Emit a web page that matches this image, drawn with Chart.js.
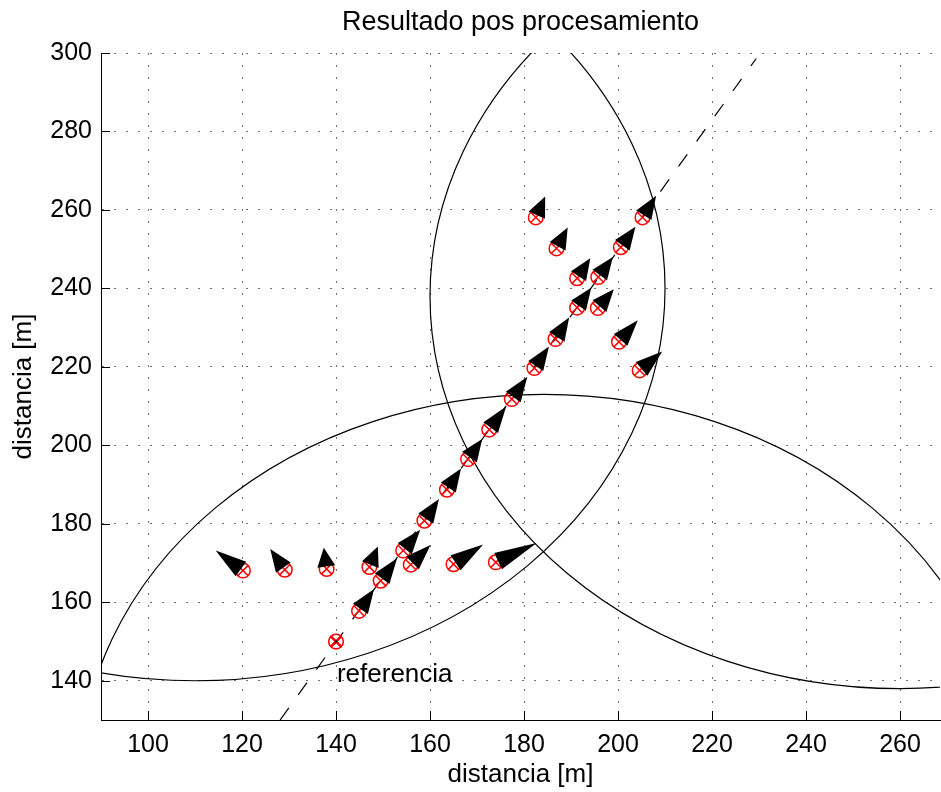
<!DOCTYPE html>
<html>
<head>
<meta charset="utf-8">
<title>Resultado pos procesamiento</title>
<script src="https://cdn.jsdelivr.net/npm/chart.js@4/dist/chart.umd.min.js"></script>
<style>
  html, body { margin: 0; padding: 0; background: #fff; }
  #wrap { width: 941px; height: 792px; }
</style>
</head>
<body>
<div id="wrap"><canvas id="c" width="941" height="792"></canvas></div>
<script>
// Axis ticks
const xTicks = [100, 120, 140, 160, 180, 200, 220, 240, 260];
const yTicks = [140, 160, 180, 200, 220, 240, 260, 280, 300];

// Estimated positions after post-processing [m]
const posX = [120.2, 129.1, 138.0, 147.1, 154.3, 149.5, 155.9, 144.9, 165.0, 174.0,
              158.8, 163.6, 168.1, 172.6, 177.4, 182.2, 204.6, 186.7, 200.2, 191.3,
              195.7, 191.3, 195.8, 186.9, 200.6, 182.5, 205.2];
const posY = [168.1, 168.3, 168.5, 169.0, 173.2, 165.5, 169.6, 157.8, 169.7, 170.2,
              180.8, 188.7, 196.5, 204.0, 211.8, 219.7, 219.1, 227.1, 226.4, 235.1,
              235.0, 242.6, 242.9, 250.2, 250.5, 258.1, 258.1];

// Heading tips (where each cone points to) [m]
const headX = [114.4, 126.0, 137.4, 148.9, 157.9, 153.0, 160.1, 148.1, 171.3, 182.7,
               161.9, 166.6, 171.1, 176.2, 180.7, 185.3, 209.4, 189.6, 204.2, 194.3,
               199.1, 194.1, 198.9, 189.3, 203.7, 184.5, 208.1];
const headY = [173.2, 173.6, 173.9, 174.2, 178.5, 171.2, 174.6, 163.4, 174.7, 175.1,
               186.3, 194.1, 201.6, 209.9, 217.5, 225.2, 223.9, 232.6, 231.9, 240.2,
               239.8, 247.7, 248.0, 255.5, 255.7, 263.4, 263.6];

// Reference point and its bearing line
const refX = [140];
const refY = [150];
const refLineX = [128.1, 229.4];
const refLineY = [130.0, 298.6];
const refLabel = 'referencia';
const refLabelX = 140.2;
const refLabelY = 141.5;

// Range circles (beacon centre and radius) [m]
const beaconX = [110, 260, 184.2];
const beaconY = [240, 238, 114.2];
const beaconR = [100, 100, 98.8];

const FONT = "'Liberation Sans', Arial, Helvetica, sans-serif";

const toXY = (xs, ys) => xs.map((v, i) => ({ x: v, y: ys[i] }));

function clipArea(ctx, a) {
  ctx.beginPath();
  ctx.rect(a.left, a.top, a.right - a.left, a.bottom - a.top);
  ctx.clip();
}

// Range circles, drawn beneath the markers, and the inward tick marks
const rangeCircles = {
  id: 'rangeCircles',
  beforeDatasetsDraw(chart) {
    const { ctx, chartArea: a, scales: { x, y } } = chart;
    ctx.save();
    clipArea(ctx, a);
    ctx.strokeStyle = '#000';
    ctx.lineWidth = 1.2;
    for (let i = 0; i < beaconX.length; i++) {
      const px = x.getPixelForValue(beaconX[i]);
      const py = y.getPixelForValue(beaconY[i]);
      const rx = Math.abs(x.getPixelForValue(beaconX[i] + beaconR[i]) - px);
      const ry = Math.abs(y.getPixelForValue(beaconY[i] + beaconR[i]) - py);
      ctx.beginPath();
      ctx.ellipse(px, py, rx, ry, 0, 0, Math.PI * 2);
      ctx.stroke();
    }
    ctx.restore();

    ctx.save();
    ctx.strokeStyle = '#000';
    ctx.lineWidth = 1;
    const TL = 9;
    xTicks.forEach(v => {
      const px = Math.round(x.getPixelForValue(v)) + 0.5;
      ctx.beginPath(); ctx.moveTo(px, a.bottom); ctx.lineTo(px, a.bottom - TL); ctx.stroke();
    });
    yTicks.forEach(v => {
      const py = Math.round(y.getPixelForValue(v)) + 0.5;
      ctx.beginPath(); ctx.moveTo(a.left, py); ctx.lineTo(a.left + TL, py); ctx.stroke();
    });
    ctx.restore();
  }
};

// Heading cones on top of the position markers, plus the reference label
const headingCones = {
  id: 'headingCones',
  afterDatasetsDraw(chart) {
    const { ctx, chartArea: a, scales: { x, y } } = chart;
    const HALF = 9, SHIFT = 2.5;
    ctx.save();
    clipArea(ctx, a);
    ctx.fillStyle = '#000';
    for (let i = 0; i < posX.length; i++) {
      const cx = x.getPixelForValue(posX[i]);
      const cy = y.getPixelForValue(posY[i]);
      const tx = x.getPixelForValue(headX[i]);
      const ty = y.getPixelForValue(headY[i]);
      const dx = tx - cx, dy = ty - cy;
      const L = Math.hypot(dx, dy) || 1;
      const ux = dx / L, uy = dy / L;
      const bx = cx + ux * SHIFT, by = cy + uy * SHIFT;
      ctx.beginPath();
      ctx.moveTo(tx, ty);
      ctx.lineTo(bx - uy * HALF, by + ux * HALF);
      ctx.lineTo(bx + uy * HALF, by - ux * HALF);
      ctx.closePath();
      ctx.fill();
    }
    ctx.fillStyle = '#000';
    ctx.font = '26px ' + FONT;
    ctx.textAlign = 'left';
    ctx.textBaseline = 'middle';
    ctx.fillText(refLabel, x.getPixelForValue(refLabelX), y.getPixelForValue(refLabelY));
    ctx.restore();
  }
};

const tickFont = { family: FONT, size: 25 };
const labelFont = { family: FONT, size: 26, lineHeight: 1.2 };

new Chart(document.getElementById('c'), {
  type: 'scatter',
  data: {
    datasets: [
      {
        label: 'bearing',
        data: toXY(refLineX, refLineY),
        showLine: true,
        borderColor: '#000',
        borderWidth: 1.2,
        borderDash: [15, 16],
        pointRadius: 0,
        fill: false,
        order: 10
      },
      {
        label: 'pos-circle',
        data: toXY(posX, posY),
        pointStyle: 'circle',
        pointRadius: 7.3,
        borderColor: '#ff0000',
        backgroundColor: 'rgba(0,0,0,0)',
        borderWidth: 1.5,
        order: 6
      },
      {
        label: 'pos-cross',
        data: toXY(posX, posY),
        pointStyle: 'crossRot',
        pointRadius: 7.3,
        borderColor: '#ff0000',
        borderWidth: 1.5,
        order: 5
      },
      {
        label: 'ref-circle',
        data: toXY(refX, refY),
        pointStyle: 'circle',
        pointRadius: 7.3,
        borderColor: '#ff0000',
        backgroundColor: 'rgba(0,0,0,0)',
        borderWidth: 1.6,
        order: 3
      },
      {
        label: 'ref-cross',
        data: toXY(refX, refY),
        pointStyle: 'crossRot',
        pointRadius: 7.3,
        borderColor: '#ff0000',
        borderWidth: 2.6,
        order: 2
      },
      {
        label: 'ref-dot',
        data: toXY(refX, refY),
        pointStyle: 'circle',
        pointRadius: 1.3,
        borderColor: '#000',
        backgroundColor: '#000',
        borderWidth: 0,
        order: 1
      }
    ]
  },
  options: {
    responsive: false,
    animation: false,
    events: [],
    layout: { autoPadding: false, padding: { left: 0, right: 1, top: 0, bottom: 0 } },
    plugins: {
      legend: { display: false },
      tooltip: { enabled: false },
      title: {
        display: true,
        fullSize: false,
        text: 'Resultado pos procesamiento',
        color: '#000',
        font: { family: FONT, size: 27, weight: 'normal', lineHeight: 1.2 },
        padding: { top: 6.4, bottom: 14.2 }
      }
    },
    scales: {
      x: {
        type: 'linear',
        min: 90,
        max: 268.5,
        afterBuildTicks: s => { s.ticks = xTicks.map(v => ({ value: v })); },
        afterFit: s => { s.height = 72; s.paddingLeft = 0; s.paddingRight = 0; },
        grid: { color: '#707070', lineWidth: 1, drawTicks: false },
        border: { display: true, color: '#000', width: 1, dash: [2, 10] },
        ticks: {
          color: '#000', font: tickFont, padding: 10,
          maxRotation: 0, autoSkip: false, callback: v => String(v)
        },
        title: {
          display: true, text: 'distancia [m]', color: '#000',
          font: labelFont, padding: { top: 0, bottom: 2 }
        }
      },
      y: {
        type: 'linear',
        min: 130,
        max: 300,
        afterBuildTicks: s => { s.ticks = yTicks.map(v => ({ value: v })); },
        afterFit: s => { s.width = 101; s.paddingTop = 0; s.paddingBottom = 0; },
        grid: { color: '#707070', lineWidth: 1, drawTicks: false },
        border: { display: true, color: '#000', width: 1, dash: [2, 10] },
        ticks: {
          color: '#000', font: tickFont, padding: 9,
          autoSkip: false, callback: v => String(v)
        },
        title: {
          display: true, text: 'distancia [m]', color: '#000',
          font: labelFont, padding: { top: 8.4, bottom: 0 }
        }
      }
    }
  },
  plugins: [rangeCircles, headingCones]
});
</script>
</body>
</html>
